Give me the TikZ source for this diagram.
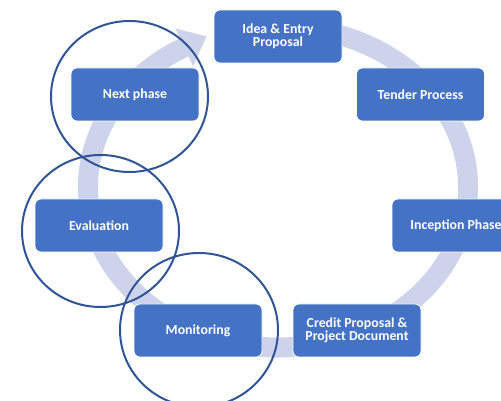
\documentclass[tikz,border=0pt]{standalone}
\usepackage{fontspec}
\setmainfont{Carlito}
\definecolor{boxblue}{HTML}{4472C4}
\definecolor{arcblue}{HTML}{CDD3EA}
\definecolor{ringblue}{HTML}{2F5597}
\tikzset{
  stage/.style={draw=white, line width=0.8pt, fill=boxblue, rounded corners=6pt,
    minimum width=128pt, minimum height=53pt, text=white, align=center,
    inner sep=2pt, font=\bfseries\fontsize{13.8}{13.2}\selectfont},
  ring/.style={draw=ringblue, line width=2pt},
  cyclearc/.style={draw=arcblue, line width=20pt}
}
\begin{document}
\begin{tikzpicture}[x=1pt,y=1pt]
\useasboundingbox (0,0) rectangle (501,401);
% cycle arrow
\coordinate (ec) at (278,214.1);
\draw[cyclearc] (ec) ++(80:190 and 160.6) arc[start angle=80, end angle=-241, x radius=190, y radius=160.6];
\fill[arcblue] (175.5,372.5) -- (206.7,364.6) -- (193.0,335.0) -- cycle;
% stages
\node[stage] (idea) at (278,364.5) {Idea \& Entry\\Proposal};
\node[stage] (tender) at (420.5,306.5) {Tender Process};
\node[stage] (incep) at (456,175.5) {Inception Phase};
\node[stage] (credit) at (357,70.5) {Credit Proposal \&\\Project Document};
\node[stage] (monit) at (198,70.5) {Monitoring};
\node[stage] (evalu) at (99,175.5) {Evaluation};
\node[stage] (next) at (135,306.5) {Next phase};
% highlight rings
\draw[ring] (129.5,304.5) ellipse [x radius=78.5, y radius=75.5];
\draw[ring] (100.5,170) ellipse [x radius=78.5, y radius=76];
\draw[ring] (199,71) ellipse [x radius=79, y radius=77];
\end{tikzpicture}
\end{document}
